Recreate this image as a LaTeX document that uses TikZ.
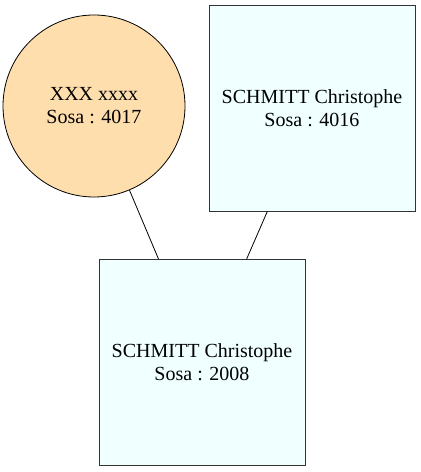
\documentclass[tikz,border=0pt]{standalone}
\usepackage{fontspec}
\setmainfont{Liberation Serif}
\definecolor{navajo}{HTML}{FFDEAD}
\definecolor{azurefill}{HTML}{F0FFFF}
\definecolor{boxline}{HTML}{333333}
\tikzset{
  person/.style={align=center, font=\fontsize{20}{23}\selectfont, inner sep=0pt},
  man/.style={person, draw=boxline, fill=azurefill, minimum size=206pt, line width=0.9pt},
  woman/.style={person, circle, draw=black, fill=navajo, minimum size=182pt, line width=0.8pt},
  link/.style={draw=black, line width=0.8pt}
}
\begin{document}
\begin{tikzpicture}[x=1pt,y=1pt]
    \useasboundingbox (0,0) rectangle (421,472);

    % Parents
    \node[woman] (mother) at (94,366) {XXX xxxx\\Sosa : 4017};
    \node[man] (father) at (312,364) {SCHMITT Christophe\\Sosa : 4016};

    % Child
    \node[man] (child) at (202,109.5) {SCHMITT Christophe\\Sosa : 2008};

    % Links
    \draw[link] (mother) -- (child);
    \draw[link] (father) -- (child);
\end{tikzpicture}
\end{document}
